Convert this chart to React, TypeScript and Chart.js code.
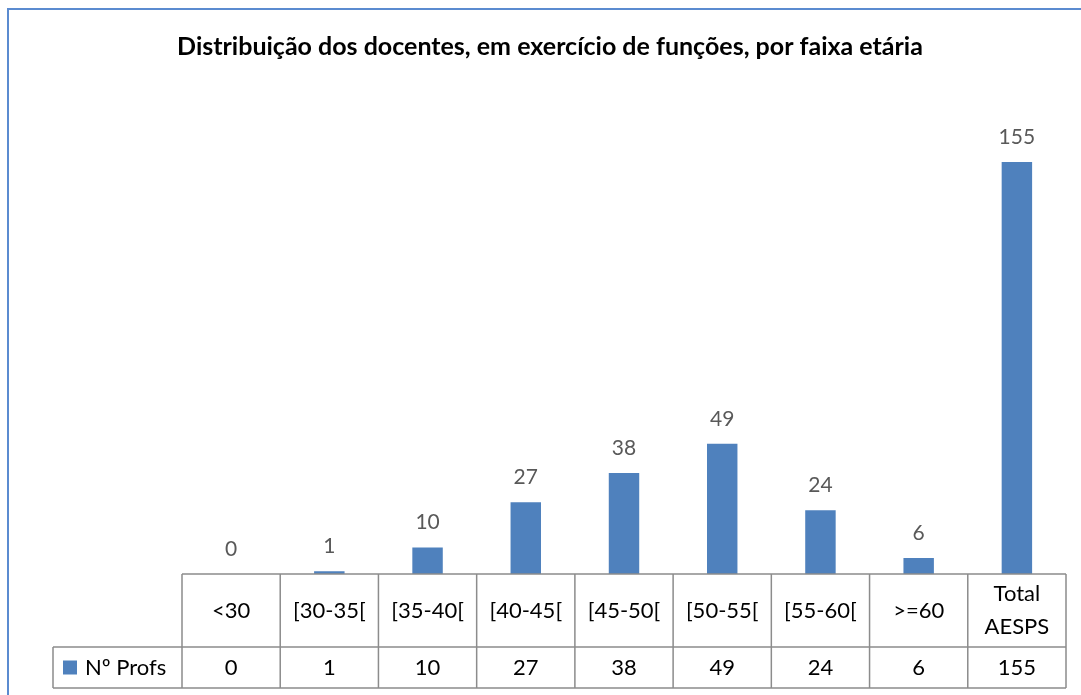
import React, { useEffect, useRef } from "react";
import { Chart, registerables } from "chart.js";

Chart.register(...registerables);

const TITLE = "Distribuição dos docentes, em exercício de funções, por faixa etária";
const CATEGORIES: (string | string[])[] = [
  "<30",
  "[30-35[",
  "[35-40[",
  "[40-45[",
  "[45-50[",
  "[50-55[",
  "[55-60[",
  ">=60",
  ["Total", "AESPS"],
];
const SERIES_NAME = "Nº Profs";
const VALUES = [0, 1, 10, 27, 38, 49, 24, 6, 155];

const BAR_COLOR = "#4F81BD";
const FONT = "Lato, 'Open Sans', sans-serif";

const framePlugin = {
  id: "frame",
  beforeDraw(chart: any) {
    const ctx = chart.ctx;
    ctx.save();
    ctx.fillStyle = "#ffffff";
    ctx.fillRect(0, 0, chart.width, chart.height);
    ctx.strokeStyle = "#5B8BD0";
    ctx.lineWidth = 2;
    ctx.strokeRect(8, 9, 1400, 1400);
    // title
    ctx.fillStyle = "#000000";
    ctx.font = `bold 25px ${FONT}`;
    ctx.textAlign = "center";
    ctx.textBaseline = "middle";
    ctx.fillText(TITLE, 550, 47);
    ctx.restore();
  },
};

const tablePlugin = {
  id: "dataTable",
  afterDraw(chart: any) {
    const ctx = chart.ctx;
    const area = chart.chartArea;
    const n = CATEGORIES.length;
    const w = (area.right - area.left) / n;
    const top = area.bottom;
    const mid = top + 73;
    const bot = mid + 41;
    const legendLeft = 53;
    ctx.save();
    // value labels above bars
    const meta = chart.getDatasetMeta(0);
    ctx.font = `21px ${FONT}`;
    ctx.fillStyle = "#595959";
    ctx.textAlign = "center";
    ctx.textBaseline = "middle";
    meta.data.forEach((bar: any, i: number) => {
      ctx.fillText(String(VALUES[i]), bar.x, bar.y - 25);
    });

    // grid
    ctx.strokeStyle = "#8C8C8C";
    ctx.lineWidth = 1.5;
    ctx.beginPath();
    ctx.moveTo(area.left, top);
    ctx.lineTo(area.right, top);
    ctx.moveTo(legendLeft, mid);
    ctx.lineTo(area.right, mid);
    ctx.moveTo(legendLeft, bot);
    ctx.lineTo(area.right, bot);
    ctx.moveTo(legendLeft, mid);
    ctx.lineTo(legendLeft, bot);
    for (let i = 0; i <= n; i++) {
      const x = area.left + i * w;
      ctx.moveTo(x, top);
      ctx.lineTo(x, bot);
    }
    ctx.stroke();

    // header texts
    ctx.fillStyle = "#000000";
    ctx.font = `22px ${FONT}`;
    ctx.textBaseline = "middle";
    ctx.textAlign = "center";
    CATEGORIES.forEach((c, i) => {
      const cx = area.left + (i + 0.5) * w;
      const lines = Array.isArray(c) ? c : [c];
      const lh = 33;
      const cy = (top + mid) / 2;
      lines.forEach((ln, j) => {
        ctx.fillText(ln, cx, cy + (j - (lines.length - 1) / 2) * lh);
      });
      ctx.fillText(String(VALUES[i]), cx, (mid + bot) / 2);
    });

    // legend cell
    ctx.fillStyle = BAR_COLOR;
    ctx.fillRect(63, (mid + bot) / 2 - 7, 14, 14);
    ctx.fillStyle = "#000000";
    ctx.textAlign = "left";
    ctx.fillText(SERIES_NAME, 85, (mid + bot) / 2);
    ctx.restore();
  },
};

export default function App() {
  const ref = useRef<HTMLCanvasElement | null>(null);
  useEffect(() => {
    if (!ref.current) return;
    const chart = new Chart(ref.current, {
      type: "bar",
      data: {
        labels: CATEGORIES as any,
        datasets: [
          {
            label: SERIES_NAME,
            data: VALUES,
            backgroundColor: BAR_COLOR,
            borderWidth: 0,
            categoryPercentage: 1,
            barPercentage: 0.31,
          },
        ],
      },
      options: {
        responsive: false,
        animation: false,
        layout: { padding: { left: 182, right: 15, top: 95.5, bottom: 121 } },
        plugins: {
          legend: { display: false },
          title: { display: false },
          tooltip: { enabled: false },
        },
        scales: {
          x: { display: false },
          y: { display: false, min: 0, max: 180 },
        },
      },
      plugins: [framePlugin, tablePlugin],
    });
    return () => chart.destroy();
  }, []);
  return (
    <div style={{ position: "fixed", left: 0, top: 0, width: 1081, height: 695 }}>
      <canvas ref={ref} width={1081} height={695} style={{ width: 1081, height: 695 }} />
    </div>
  );
}
